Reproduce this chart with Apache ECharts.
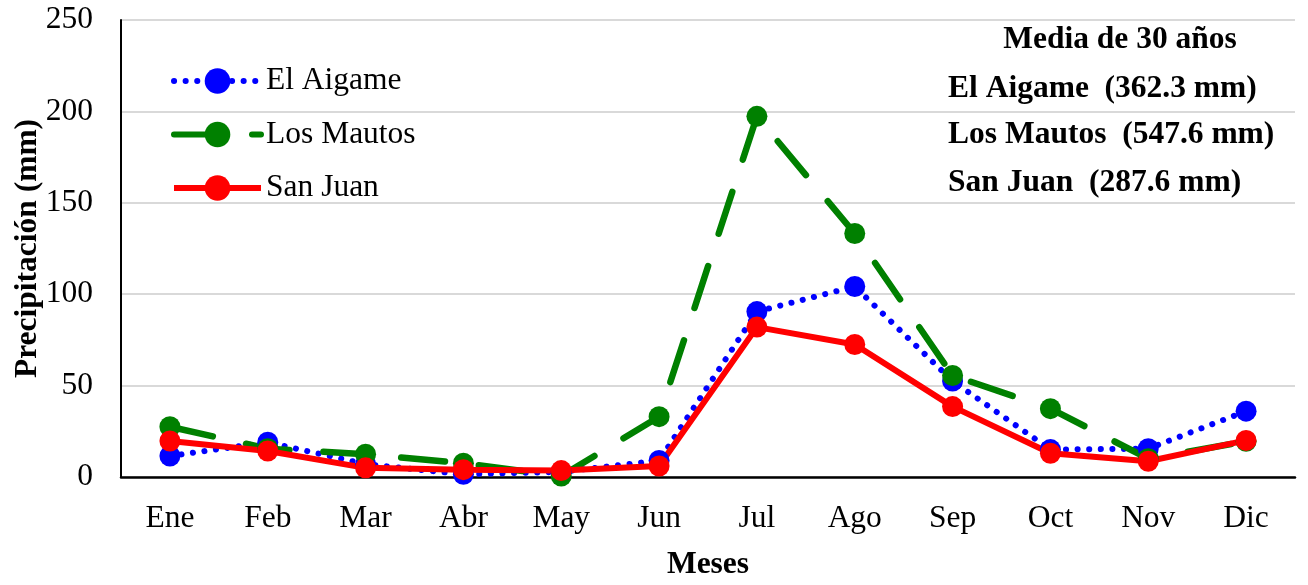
<!DOCTYPE html>
<html>
<head>
<meta charset="utf-8">
<script src="https://cdn.jsdelivr.net/npm/echarts@6/dist/echarts.min.js"></script>
<style>
html,body{margin:0;padding:0;background:#fff;}
#chart{width:1308px;height:585px;}
</style>
</head>
<body>
<div id="chart"></div>
<script>
var months = ['Ene','Feb','Mar','Abr','May','Jun','Jul','Ago','Sep','Oct','Nov','Dic'];
var elAigame = [11.5, 19, 7, 1.5, 2.8, 9, 90.5, 104.2, 52.5, 15, 15.5, 36];
var losMautos = [27.5, 15.5, 12.5, 7.5, 0.5, 33, 197.3, 133.2, 55.5, 37.4, 10, 19.5];
var sanJuan = [19.7, 14.2, 5, 4, 3.5, 6, 82, 72.5, 38.5, 13, 8.6, 20];
var yTicks = [0, 50, 100, 150, 200, 250];
var notes = ['Media de 30 años', 'El Aigame  (362.3 mm)', 'Los Mautos  (547.6 mm)', 'San Juan  (287.6 mm)'];

var FONT = '"Liberation Serif", "Times New Roman", serif';
var FS = 31.5;
var chart = echarts.init(document.getElementById('chart'));
chart.setOption({
  animation: false,
  backgroundColor: '#fff',
  grid: {left: 121, right: 13, top: 20, bottom: 108, containLabel: false, outerBoundsMode: 'none'},
  legend: {
    orient: 'vertical',
    left: 166,
    top: 60,
    itemWidth: 87,
    itemHeight: 32,
    itemGap: 21.5,
    lineStyle: {width: 6},
    textStyle: {fontFamily: FONT, fontSize: FS, color: '#000', lineHeight: 32},
    data: ['El Aigame', 'Los Mautos', 'San Juan']
  },
  xAxis: {
    type: 'category',
    data: months,
    boundaryGap: true,
    name: 'Meses',
    nameLocation: 'middle',
    nameGap: 72,
    nameMoveOverlap: false,
    nameTextStyle: {fontFamily: FONT, fontSize: FS, fontWeight: 'bold', color: '#000'},
    axisLine: {lineStyle: {color: '#000', width: 2.5}},
    axisTick: {show: false},
    axisLabel: {fontFamily: FONT, fontSize: FS, color: '#000', margin: 26}
  },
  yAxis: {
    type: 'value',
    min: yTicks[0],
    max: yTicks[yTicks.length - 1],
    interval: yTicks[1] - yTicks[0],
    name: 'Precipitación (mm)',
    nameLocation: 'middle',
    nameGap: 77,
    nameMoveOverlap: false,
    nameTextStyle: {fontFamily: FONT, fontSize: FS, fontWeight: 'bold', color: '#000'},
    axisLine: {show: true, lineStyle: {color: '#000', width: 2}},
    axisTick: {show: false},
    axisLabel: {fontFamily: FONT, fontSize: FS, color: '#000', margin: 28},
    splitLine: {lineStyle: {color: '#d9d9d9', width: 2}}
  },
  graphic: [
    {type: 'text', x: 1120, y: 40, style: {text: notes[0], font: 'bold ' + FS + 'px ' + FONT, fill: '#000', align: 'center', verticalAlign: 'middle'}},
    {type: 'text', x: 948, y: 89, style: {text: notes[1], font: 'bold ' + FS + 'px ' + FONT, fill: '#000', verticalAlign: 'middle'}},
    {type: 'text', x: 948, y: 135, style: {text: notes[2], font: 'bold ' + FS + 'px ' + FONT, fill: '#000', verticalAlign: 'middle'}},
    {type: 'text', x: 948, y: 183, style: {text: notes[3], font: 'bold ' + FS + 'px ' + FONT, fill: '#000', verticalAlign: 'middle'}}
  ],
  series: [
    {
      name: 'El Aigame', type: 'line', data: elAigame,
      symbol: 'circle', symbolSize: 21,
      itemStyle: {color: '#0000ff'},
      lineStyle: {color: '#0000ff', width: 6, type: [0.1, 11.5], cap: 'round'}
    },
    {
      name: 'Los Mautos', type: 'line', data: losMautos,
      symbol: 'circle', symbolSize: 21,
      itemStyle: {color: '#008000'},
      lineStyle: {color: '#008000', width: 6.5, type: [44, 34], cap: 'round'}
    },
    {
      name: 'San Juan', type: 'line', data: sanJuan,
      symbol: 'circle', symbolSize: 21,
      itemStyle: {color: '#ff0000'},
      lineStyle: {color: '#ff0000', width: 6}
    }
  ]
});
</script>
</body>
</html>
